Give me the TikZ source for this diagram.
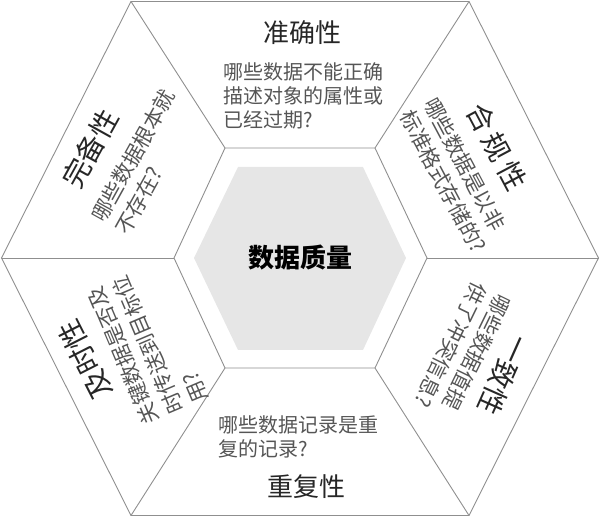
\documentclass[tikz,border=0pt]{standalone}
\usepackage{fontspec}
\setmainfont{Noto Sans CJK SC}
\definecolor{rimgray}{HTML}{8F8F8F}
\definecolor{coregray}{HTML}{E6E6E6}
\definecolor{askgray}{HTML}{555555}
\tikzset{
  rim/.style={draw=rimgray, line width=0.9pt},
  head/.style={font=\fontsize{26}{30}\selectfont, text=black!85, inner sep=0pt},
  sidehead/.style={font=\fontsize{28}{32}\selectfont, text=black!85, inner sep=0pt},
  ask/.style={font=\fontsize{20}{24}\selectfont, text=askgray, align=left, inner sep=0pt},
  sideask/.style={font=\fontsize{21}{27}\selectfont, text=askgray, align=left, inner sep=0pt}
}

\begin{document}
\begin{tikzpicture}[x=1pt,y=-1pt]
        \useasboundingbox (0,0) rectangle (600,518);
        % outer ring
        \coordinate (o1) at (131,1.5);
        \coordinate (o2) at (469,1.5);
        \coordinate (o3) at (598.5,258);
        \coordinate (o4) at (469,515.5);
        \coordinate (o5) at (131,515.5);
        \coordinate (o6) at (1.5,258);
        % inner ring
        \coordinate (i1) at (225,148);
        \coordinate (i2) at (375,148);
        \coordinate (i3) at (427,258);
        \coordinate (i4) at (375,368);
        \coordinate (i5) at (225,368);
        \coordinate (i6) at (174,258);
        \fill [coregray] (238,167) -- (363,167) -- (406,258) -- (363,350) -- (238,350) -- (194,258) -- cycle;
        \draw [rim] (o1) -- (o2) -- (o3) -- (o4) -- (o5) -- (o6) -- cycle;
        \draw [rim] (i1) -- (i2) -- (i3) -- (i4) -- (i5) -- (i6) -- cycle;
        \draw [rim] (o1) -- (i1);
        \draw [rim] (o2) -- (i2);
        \draw [rim] (o3) -- (i3);
        \draw [rim] (o4) -- (i4);
        \draw [rim] (o5) -- (i5);
        \draw [rim] (o6) -- (i6);
        \node [font=\fontsize{26}{30}\selectfont\bfseries] (core) at (300,258) {数据质量};
        % top and bottom
        \node [head] (acc) at (302,33) {准确性};
        \node [ask] (accq) at (303,96) {哪些数据不能正确\\描述对象的属性或\\已经过期?};
        \node [ask] (dupq) at (298,437) {哪些数据记录是重\\复的记录?};
        \node [head] (dup) at (306,487) {重复性};
        % slanted sides
        \node [sidehead, rotate=61] (full) at (90,149) {完备性};
        \node [sideask, rotate=61] (fullq) at (145,162) {哪些数据根本就\\不存在?};
        \node [sidehead, rotate=-62] (comp) at (497,147) {合\hspace{5pt}规\hspace{5pt}性};
        \node [sideask, rotate=-62] (compq) at (455,175) {哪些数据是以非\\标准格式存储的?};
        \node [sidehead, rotate=117] (time) at (85,360) {及时性};
        \node [sideask, rotate=113] (timeq) at (148,345) {关键数据是否及\\时传送到目标位\\用?};
        \node [sidehead, rotate=-114] (cons) at (504,375) {一致性};
        \node [sideask, rotate=-116] (consq) at (463,351) {哪些数据值提\\供了冲突信息?};
    \end{tikzpicture}
\end{document}
